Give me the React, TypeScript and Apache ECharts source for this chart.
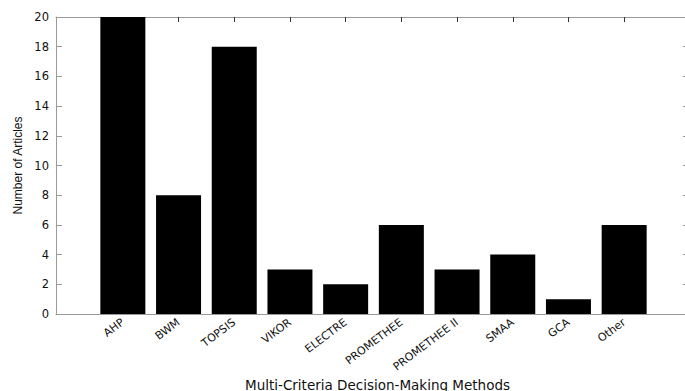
import React, { useEffect, useRef } from "react";
import * as echarts from "echarts";

const methods = [
  "AHP",
  "BWM",
  "TOPSIS",
  "VIKOR",
  "ELECTRE",
  "PROMETHEE",
  "PROMETHEE II",
  "SMAA",
  "GCA",
  "Other",
];
const articleCounts = [20, 8, 18, 3, 2, 6, 3, 4, 1, 6];
const yTicks = [0, 2, 4, 6, 8, 10, 12, 14, 16, 18, 20];

const borderGrey = "#9a9a9a";

export default function App() {
  const ref = useRef<HTMLDivElement>(null);

  useEffect(() => {
    if (!ref.current) return;
    const chart = echarts.init(ref.current, null, { renderer: "svg" });
    const positions = methods.map((_, i) => i);

    chart.setOption({
      animation: false,
      backgroundColor: "#ffffff",
      grid: {
        left: 56,
        top: 17,
        width: 635,
        height: 297,
        containLabel: false,
        outerBoundsMode: "none",
      },
      xAxis: [
        {
          type: "value",
          position: "bottom",
          min: -1.2,
          max: 10.2,
          name: "Multi-Criteria Decision-Making Methods",
          nameLocation: "middle",
          nameGap: 64,
          nameMoveOverlap: false,
          nameTextStyle: {
            fontFamily: "DejaVu Sans",
            fontSize: 13.5,
            color: "#111",
            padding: [0, 0, 0, 8],
          },
          axisLine: { show: true, onZero: false, lineStyle: { color: borderGrey, width: 1 } },
          axisTick: {
            show: true,
            inside: true,
            length: 5,
            customValues: positions,
            lineStyle: { color: "#333" },
          },
          axisLabel: {
            show: true,
            customValues: positions,
            rotate: 37,
            margin: 7,
            fontFamily: "DejaVu Sans",
            fontSize: 11,
            color: "#111",
            formatter: (v: number) => methods[Math.round(v)] ?? "",
          },
          splitLine: { show: false },
        },
        {
          type: "value",
          position: "top",
          min: -1.2,
          max: 10.2,
          axisLine: { show: true, onZero: false, lineStyle: { color: borderGrey, width: 1 } },
          axisTick: {
            show: true,
            inside: true,
            length: 5,
            customValues: positions,
            lineStyle: { color: "#333" },
          },
          axisLabel: { show: false },
          splitLine: { show: false },
        },
      ],
      yAxis: [
        {
          type: "value",
          position: "left",
          min: 0,
          max: 20,
          interval: 2,
          name: "Number of Articles",
          nameLocation: "middle",
          nameRotate: 90,
          nameGap: 32,
          nameMoveOverlap: false,
          nameTextStyle: {
            fontFamily: "Liberation Sans",
            fontSize: 12,
            color: "#111",
          },
          axisLine: { show: true, onZero: false, lineStyle: { color: borderGrey, width: 1 } },
          axisTick: {
            show: true,
            inside: true,
            length: 6,
            lineStyle: { color: borderGrey },
          },
          axisLabel: {
            margin: 7,
            fontFamily: "DejaVu Sans",
            fontSize: 11.5,
            color: "#111",
            formatter: (v: number) => (yTicks.includes(v) ? String(v) : ""),
          },
          splitLine: { show: false },
        },
        {
          type: "value",
          position: "right",
          min: 0,
          max: 20,
          interval: 2,
          axisLine: { show: true, onZero: false, lineStyle: { color: borderGrey, width: 1 } },
          axisTick: {
            show: true,
            inside: true,
            length: 8,
            lineStyle: { color: borderGrey },
          },
          axisLabel: { show: false },
          splitLine: { show: false },
        },
      ],
      series: [
        {
          type: "bar",
          xAxisIndex: 0,
          yAxisIndex: 0,
          barWidth: 45,
          data: articleCounts.map((c, i) => [i, c]),
          itemStyle: { color: "#000000", borderColor: "#000000", borderWidth: 0 },
        },
      ],
    });

    return () => chart.dispose();
  }, []);

  return (
    <div
      ref={ref}
      style={{ position: "fixed", left: 0, top: 0, width: 685, height: 391 }}
    />
  );
}
